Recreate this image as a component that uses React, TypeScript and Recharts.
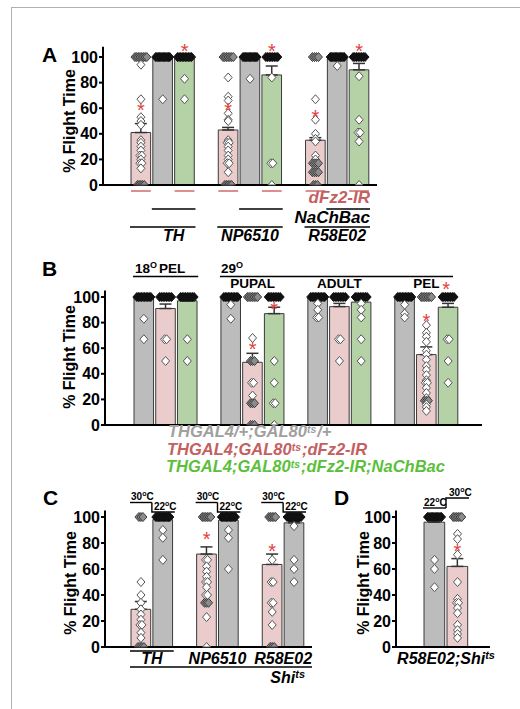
import React from "react";
import { ComposedChart, Bar, Cell, ErrorBar, Scatter, XAxis, YAxis } from "recharts";

const FONT = "'Liberation Sans', Arial, Helvetica, sans-serif";
const GREY = "#bcbcbc";
const PINK = "#eacccc";
const GREEN = "#b4d2a6";
const STAR_RED = "#e4403c";
const LINE_RED = "#d27474";

// ---- panel A : TH / NP6510 / R58E02 (pink, grey, green per group) ----
const A_FILLS = [PINK, GREY, GREEN, null, PINK, GREY, GREEN, null, PINK, GREY, GREEN];
const A_MEANS = [41, 99.5, 99, null, 43, 99.5, 86, null, 35, 99.5, 90];
const A_SEM = [7, 0, 0, null, 2, 0, 7, null, 2, 0, 5];
const A_STARS = [62, null, 108, null, 62, null, 108, null, 56, null, 108];
const A_POINTS = [
  [100, 100, 100, 100, 100, 100, 100, 100, 94, 67, 53, 50, 47, 35, 33, 30, 27, 23, 23, 20, 17, 17, 13, 0, 0, 0, 0, 0],
  [100, 100, 100, 100, 100, 100, 100, 100, 100, 100, 100, 100, 67],
  [100, 100, 100, 100, 100, 100, 100, 100, 100, 100, 83, 67],
  null,
  [100, 100, 100, 100, 100, 100, 100, 84, 69, 66, 56, 51, 50, 35, 33, 33, 30, 27, 23, 20, 17, 17, 10, 0, 0, 0, 0, 0],
  [100, 100, 100, 100, 100, 100, 100, 100, 100, 100, 100, 100, 83],
  [100, 100, 100, 100, 100, 100, 100, 100, 84, 17, 17, 0],
  null,
  [100, 100, 100, 100, 67, 51, 40, 36, 34, 23, 20, 17, 17, 17, 17, 10, 10, 10, 10, 0, 0, 0],
  [100, 100, 100, 100, 100, 100, 100, 100, 100, 100, 100, 100, 93],
  [100, 100, 100, 100, 100, 100, 100, 100, 85, 51, 41, 41, 34, 0],
];
const A_GROUPS = ["TH", "NP6510", "R58E02"];

// ---- panel B : 18° PEL / 29° PUPAL, ADULT, PEL (grey, pink, green) ----
const B_FILLS = [GREY, PINK, GREEN, null, GREY, PINK, GREEN, null, GREY, PINK, GREEN, null, GREY, PINK, GREEN];
const B_MEANS = [99.5, 91, 97, null, 99.5, 49, 87, null, 99.5, 92.5, 96, null, 99.5, 55, 92];
const B_SEM = [0, 3.5, 1, null, 0, 7, 5, null, 0, 2.5, 0, null, 0, 6, 3];
const B_STARS = [null, null, null, null, null, 62.5, 94, null, null, null, null, null, null, 84, null];
const B_POINTS = [
  [100, 100, 100, 100, 100, 100, 100, 100, 100, 100, 83, 67],
  [100, 100, 100, 100, 100, 100, 100, 100, 67, 67, 50],
  [100, 100, 100, 100, 100, 100, 100, 100, 100, 67, 50],
  null,
  [100, 100, 100, 100, 100, 100, 100, 100, 100, 100, 94, 83],
  [100, 100, 100, 100, 100, 100, 100, 68, 50, 50, 50, 33, 33, 23, 17, 17, 17, 0, 0, 0],
  [100, 100, 100, 100, 100, 100, 100, 100, 50, 33, 17, 17, 0],
  null,
  [100, 100, 100, 100, 100, 100, 100, 100, 100, 100, 95, 90, 84, 84],
  [100, 100, 100, 100, 100, 100, 100, 100, 67, 67, 50],
  [100, 100, 100, 100, 100, 100, 100, 100, 95, 90, 84, 67, 50],
  null,
  [100, 100, 100, 100, 100, 100, 100, 100, 100, 100, 94, 87, 84],
  [100, 100, 100, 100, 100, 100, 100, 78, 72, 69, 65, 58, 55, 51, 46, 43, 39, 35, 33, 33, 29, 25, 21, 19, 19, 19, 16, 14, 11],
  [100, 100, 100, 100, 100, 100, 100, 100, 67, 67, 50, 33],
];
const B_STAGES = ["PUPAL", "ADULT", "PEL"];

// ---- panel C : TH / NP6510 / R58E02 Shi-ts (pink 30°C, grey 22°C) ----
const C_FILLS = [PINK, GREY, null, PINK, GREY, null, PINK, GREY];
const C_MEANS = [29, 98, null, 71.5, 97.5, null, 63.5, 95.5];
const C_SEM = [6, 0, null, 5.5, 0, null, 8, 1];
const C_STARS = [null, null, null, 86, null, null, 77, null];
const C_POINTS = [
  [100, 100, 100, 50, 40, 34, 29, 25, 21, 17, 17, 11, 7, 0, 0, 0, 0],
  [100, 100, 100, 100, 100, 100, 100, 100, 100, 100, 100, 100, 90, 84, 67],
  null,
  [100, 100, 100, 100, 100, 100, 67, 67, 62, 58, 54, 50, 50, 46, 40, 40, 34, 34, 34, 23, 0],
  [100, 100, 100, 100, 100, 100, 100, 100, 100, 100, 100, 100, 90, 84, 60],
  null,
  [100, 100, 100, 100, 100, 67, 50, 50, 34, 34, 27, 17, 0, 0, 0],
  [100, 100, 100, 100, 100, 100, 100, 100, 100, 100, 100, 100, 93, 67, 60, 50],
];
const C_GROUPS = ["TH", "NP6510", "R58E02"];

// ---- panel D : R58E02;Shi-ts (grey 22°C, pink 30°C) ----
const D_FILLS = [GREY, PINK];
const D_MEANS = [96, 62];
const D_SEM = [1.5, 6];
const D_STARS = [null, 77];
const D_POINTS = [
  [100, 100, 100, 100, 100, 100, 100, 100, 100, 100, 100, 100, 67, 60, 46],
  [100, 100, 100, 100, 100, 100, 87, 83, 71, 50, 37, 34, 34, 30, 26, 17, 13, 10, 7],
];

const Y_TICKS = [0, 20, 40, 60, 80, 100];

// band widths follow from each panel's plot box and x padding
const A_BAND = (377 - 103 - 27 - 7) / 11;
const B_BAND = (482 - 105 - 28 - 23) / 15;
const C_BAND = (312 - 105 - 25 - 7) / 8;
const D_BAND = (490 - 396 - 27 - 21) / 2;

const lbl = { fontFamily: FONT, fontWeight: 700, fontStyle: "italic" as const, fontSize: 16 };
const hdr = { fontFamily: FONT, fontWeight: 700, fontSize: 13.5, fill: "#000" };
const tmp = { fontFamily: FONT, fontWeight: 700, fontSize: 10, fill: "#000" };

function buildRows(means: (number | null)[], sem: (number | null)[]) {
  return means.map((m, i) => ({ x: i, mean: m, err: sem[i] ? [0, sem[i]] : null }));
}

function buildPoints(points: (number[] | null)[], means: (number | null)[]) {
  const out: any[] = [];
  points.forEach((vals, i) => {
    if (!vals) return;
    const counts: Record<number, number> = {};
    vals.forEach((v) => (counts[v] = (counts[v] || 0) + 1));
    const seen: Record<number, number> = {};
    vals.forEach((v) => {
      seen[v] = (seen[v] ?? -1) + 1;
      const n = counts[v];
      const tone = n < 3 ? "open" : (means[i] ?? 0) >= 80 ? "black" : "grey";
      out.push({ x: i, v, k: seen[v], n, tone });
    });
  });
  return out;
}

function buildStars(stars: (number | null)[]) {
  return stars.map((v, i) => (v == null ? null : { x: i, v })).filter(Boolean);
}

const TONES: Record<string, [string, string]> = {
  open: ["#fff", "#555"],
  grey: ["#8c8c8c", "#3c3c3c"],
  black: ["#111", "#111"],
};

function Diamond(props: any) {
  const { cx, cy, payload } = props;
  if (cx == null || cy == null) return <g />;
  const { k, n, tone, v } = payload;
  const spread = Math.min(14, (n - 1) * (n > 4 ? 1.7 : 2));
  const x = cx + (n > 1 ? -spread / 2 + (spread * k) / (n - 1) : 0);
  const [fill, stroke] = TONES[tone];
  // points sitting on the baseline only show above the axis
  const d =
    v === 0
      ? `M${x - 4},${cy}L${x},${cy - 4.5}L${x + 4},${cy}Z`
      : `M${x},${cy - 4.5}L${x + 4},${cy}L${x},${cy + 4.5}L${x - 4},${cy}Z`;
  return <path d={d} fill={fill} stroke={stroke} strokeWidth={1} />;
}

function Star(props: any) {
  const { cx, cy } = props;
  if (cx == null || cy == null) return <g />;
  return (
    <text x={cx} y={cy + 11} textAnchor="middle" fontSize={20} fontFamily={FONT} fill={STAR_RED}>
      *
    </text>
  );
}

// all panel-A annotations hang off the grey (middle) slot of each group
function ATick({ x, y, payload }: any) {
  const i = payload.value;
  if (i % 4 !== 1) return <g />;
  const g = (i - 1) / 4;
  const b = A_BAND;
  return (
    <g>
      <line x1={x - 1.5 * b + 1} x2={x - 0.5 * b - 1} y1={y + 6} y2={y + 6} stroke={LINE_RED} strokeWidth={1.6} />
      <line x1={x + 0.5 * b + 1} x2={x + 1.5 * b - 1} y1={y + 6} y2={y + 6} stroke={LINE_RED} strokeWidth={1.6} />
      <line x1={x - b / 2} x2={x + 1.5 * b} y1={y + 24} y2={y + 24} stroke="#000" strokeWidth={1.3} />
      <line x1={x - 1.5 * b} x2={x + 1.5 * b} y1={y + 42} y2={y + 42} stroke="#000" strokeWidth={1.3} />
      <text x={g === 0 ? x + b / 2 : x} y={y + 56} textAnchor="middle" {...lbl} fill="#000">
        {A_GROUPS[g]}
      </text>
      {g === 2 && (
        <>
          <text x={x + 1.5 * b} y={y + 18} textAnchor="end" {...lbl} fontSize={17} fill="#c4605f">
            dFz2-IR
          </text>
          <text x={x + 1.5 * b} y={y + 38} textAnchor="end" {...lbl} fontSize={17} fill="#000">
            NaChBac
          </text>
        </>
      )}
    </g>
  );
}

function BTopTick({ x, y, payload }: any) {
  const i = payload.value;
  const b = B_BAND;
  const x0 = x - b / 2;
  if (i === 0)
    return (
      <g>
        <text x={x0 + 2} y={y - 18} {...hdr}>
          18<tspan dy={-5} fontSize={9}>O</tspan>
          <tspan dy={5} dx={2}>PEL</tspan>
        </text>
        <line x1={x0} x2={x0 + 3 * b} y1={y - 14} y2={y - 14} stroke="#000" strokeWidth={1.5} />
      </g>
    );
  if (i === 4)
    return (
      <g>
        <text x={x0 + 1} y={y - 18} {...hdr}>
          29<tspan dy={-5} fontSize={9}>O</tspan>
        </text>
        <line x1={x0} x2={x0 + 11 * b - 6} y1={y - 14} y2={y - 14} stroke="#000" strokeWidth={1.5} />
      </g>
    );
  if (i === 5 || i === 9 || i === 13)
    return (
      <text x={x} y={y - 3} textAnchor="middle" {...hdr}>
        {B_STAGES[(i - 5) / 4]}
      </text>
    );
  if (i === 14)
    return (
      <text x={x - 2} y={y + 5} textAnchor="middle" fontSize={20} fontFamily={FONT} fill={STAR_RED}>
        *
      </text>
    );
  return <g />;
}

function BTick() {
  return <g />;
}

function Temp({ x, y, hot }: { x: number; y: number; hot: boolean }) {
  return (
    <text x={x} y={y} {...tmp}>
      {hot ? "30" : "22"}
      <tspan dy={-4} fontSize={7}>o</tspan>
      <tspan dy={4}>C</tspan>
    </text>
  );
}

function CTopTick({ x, y, payload }: any) {
  const i = payload.value;
  const b = C_BAND;
  const x0 = x - b / 2;
  if (i % 3 === 0)
    return (
      <g>
        <Temp x={x0 + 1} y={y - 10.5} hot />
        <line x1={x0} x2={x0 + b} y1={y - 8} y2={y - 8} stroke="#000" strokeWidth={1.4} />
      </g>
    );
  if (i % 3 === 1)
    return (
      <g>
        <polyline points={`${x0},${y - 8} ${x0},${y + 1.5} ${x0 + b + 1},${y + 1.5}`} fill="none" stroke="#000" strokeWidth={1.4} />
        <Temp x={x0 + 2} y={y - 1} hot={false} />
      </g>
    );
  return <g />;
}

function DTopTick({ x, y, payload }: any) {
  const i = payload.value;
  const b = D_BAND;
  const x0 = x - b / 2;
  if (i === 0)
    return (
      <g>
        <Temp x={x0 + 1} y={y - 5} hot={false} />
        <line x1={x0} x2={x0 + b} y1={y - 2.5} y2={y - 2.5} stroke="#000" strokeWidth={1.4} />
      </g>
    );
  return (
    <g>
      <polyline points={`${x0},${y - 2.5} ${x0},${y - 12.5} ${x0 + b},${y - 12.5}`} fill="none" stroke="#000" strokeWidth={1.4} />
      <Temp x={x0 + 3} y={y - 15} hot />
    </g>
  );
}

function CTick({ x, y, payload }: any) {
  const i = payload.value;
  const b = C_BAND;
  if (i % 3 !== 0) return <g />;
  const g = i / 3;
  return (
    <g>
      {i === 0 && (
        <>
          <line x1={x - b / 2} x2={x + 1.5 * b} y1={y + 4} y2={y + 4} stroke="#000" strokeWidth={1.3} />
          <line x1={x - b / 2} x2={x - b / 2 + 8 * b + 7} y1={y + 20} y2={y + 20} stroke="#000" strokeWidth={1.3} />
          <text x={x - b / 2 + 8 * b} y={y + 36} textAnchor="end" {...lbl} fill="#000">
            Shi<tspan dy={-5} fontSize={11}>ts</tspan>
          </text>
        </>
      )}
      <text x={x + b / 2} y={y + 17} textAnchor="middle" {...lbl} fill="#000">
        {C_GROUPS[g]}
      </text>
    </g>
  );
}

function DTick({ x, y, payload }: any) {
  if (payload.value !== 0) return <g />;
  return (
    <text x={x + D_BAND / 2} y={y + 17} textAnchor="middle" {...lbl} fill="#000">
      R58E02;Shi<tspan dy={-5} fontSize={11}>ts</tspan>
    </text>
  );
}

type PanelProps = {
  left: number;
  top: number;
  width: number;
  height: number;
  marginTop: number;
  marginRight: number;
  yWidth: number;
  yMax: number;
  topH?: number;
  bottomH: number;
  padL: number;
  padR: number;
  band: number;
  fills: (string | null)[];
  means: (number | null)[];
  sem: (number | null)[];
  points: (number[] | null)[];
  stars: (number | null)[];
  topTick?: (p: any) => React.ReactElement;
  bottomTick: (p: any) => React.ReactElement;
};

function Panel(p: PanelProps) {
  const n = p.means.length;
  const rows = buildRows(p.means, p.sem);
  const slots = rows.map((r) => r.x);
  const axisStroke = { stroke: "#000", strokeWidth: 2 };
  return (
    <div style={{ position: "absolute", left: p.left, top: p.top }}>
      <ComposedChart
        width={p.width}
        height={p.height}
        data={rows}
        margin={{ top: p.marginTop, right: p.marginRight, bottom: 0, left: 0 }}
      >
        {p.topTick && (
          <XAxis
            xAxisId="top"
            orientation="top"
            type="number"
            dataKey="x"
            domain={[-0.5, n - 0.5]}
            ticks={slots}
            interval={0}
            padding={{ left: p.padL, right: p.padR }}
            height={p.topH}
            axisLine={false}
            tickLine={false}
            tickSize={0}
            tickMargin={0}
            tick={p.topTick}
          />
        )}
        <XAxis
          type="number"
          dataKey="x"
          domain={[-0.5, n - 0.5]}
          ticks={slots}
          interval={0}
          padding={{ left: p.padL, right: p.padR }}
          height={p.bottomH}
          axisLine={axisStroke}
          tickLine={false}
          tickSize={0}
          tickMargin={0}
          tick={p.bottomTick}
        />
        <YAxis
          type="number"
          domain={[0, p.yMax]}
          ticks={Y_TICKS}
          width={p.yWidth}
          axisLine={axisStroke}
          tickLine={axisStroke}
          tickSize={4}
          tickMargin={1}
          tick={{ fontFamily: FONT, fontWeight: 700, fontSize: 16, fill: "#000" }}
        />
        <Bar dataKey="mean" barSize={p.band} stroke="#3a3a3a" strokeWidth={1} isAnimationActive={false}>
          {rows.map((r, i) => (
            <Cell key={i} fill={p.fills[i] ?? "none"} />
          ))}
          <ErrorBar dataKey="err" direction="y" width={6} stroke="#333" strokeWidth={1.5} />
        </Bar>
        <Scatter data={buildPoints(p.points, p.means)} dataKey="v" shape={Diamond} isAnimationActive={false} />
        <Scatter data={buildStars(p.stars)} dataKey="v" shape={Star} isAnimationActive={false} />
      </ComposedChart>
    </div>
  );
}

function YLabel({ x, y }: { x: number; y: number }) {
  return (
    <text
      transform={`translate(${x},${y}) rotate(-90)`}
      textAnchor="middle"
      dominantBaseline="central"
      fontFamily={FONT}
      fontWeight={700}
      fontSize={16}
      fill="#000"
    >
      % Flight Time
    </text>
  );
}

export default function App() {
  const letter = { fontFamily: FONT, fontWeight: 700, fontSize: 21, fill: "#000" };
  const leg = { fontFamily: FONT, fontWeight: 700, fontStyle: "italic" as const, fontSize: 16.5 };
  return (
    <div style={{ position: "absolute", left: 0, top: 0, width: 520, height: 709, background: "#fff", overflow: "hidden" }}>
      <div
        style={{
          position: "absolute",
          left: 10.5,
          top: 6.5,
          width: 520,
          height: 720,
          borderTop: "1.5px solid #b0b0b0",
          borderLeft: "1.5px solid #b0b0b0",
        }}
      />
      <Panel
        left={0} top={0} width={390} height={250} marginTop={46.8} marginRight={13}
        yWidth={103} yMax={108} bottomH={65} padL={27} padR={7} band={A_BAND}
        fills={A_FILLS} means={A_MEANS} sem={A_SEM} points={A_POINTS} stars={A_STARS}
        bottomTick={ATick}
      />
      <Panel
        left={0} top={250} width={490} height={195} marginTop={0} marginRight={8}
        yWidth={105} yMax={105} topH={40.6} bottomH={20} padL={28} padR={23} band={B_BAND}
        fills={B_FILLS} means={B_MEANS} sem={B_SEM} points={B_POINTS} stars={B_STARS}
        topTick={BTopTick} bottomTick={BTick}
      />
      <Panel
        left={0} top={480} width={320} height={212} marginTop={0} marginRight={8}
        yWidth={105} yMax={105} topH={30.5} bottomH={45} padL={25} padR={7} band={C_BAND}
        fills={C_FILLS} means={C_MEANS} sem={C_SEM} points={C_POINTS} stars={C_STARS}
        topTick={CTopTick} bottomTick={CTick}
      />
      <Panel
        left={300} top={480} width={200} height={212} marginTop={0} marginRight={10}
        yWidth={96} yMax={105} topH={30.5} bottomH={45} padL={27} padR={21} band={D_BAND}
        fills={D_FILLS} means={D_MEANS} sem={D_SEM} points={D_POINTS} stars={D_STARS}
        topTick={DTopTick} bottomTick={DTick}
      />
      <svg width={520} height={709} style={{ position: "absolute", left: 0, top: 0, pointerEvents: "none" }}>
        <text x={42} y={62} {...letter}>A</text>
        <text x={42} y={276} {...letter}>B</text>
        <text x={43} y={505} {...letter}>C</text>
        <text x={334} y={505} {...letter}>D</text>
        <YLabel x={69} y={121} />
        <YLabel x={69} y={357} />
        <YLabel x={70} y={583} />
        <YLabel x={363} y={583} />
        <text x={168} y={437} {...leg} fill="#a0a0a0">
          THGAL4/+;GAL80<tspan dy={-4} fontSize={10.5}>ts</tspan>
          <tspan dy={4} dx={1}>/+</tspan>
        </text>
        <text x={167} y={454.5} {...leg} fill="#c4605f">
          THGAL4;GAL80<tspan dy={-4} fontSize={10.5}>ts</tspan>
          <tspan dy={4} dx={1}>;dFz2-IR</tspan>
        </text>
        <text x={166} y={472} {...leg} fill="#5cbf3a">
          THGAL4;GAL80<tspan dy={-4} fontSize={10.5}>ts</tspan>
          <tspan dy={4} dx={1}>;dFz2-IR;NaChBac</tspan>
        </text>
      </svg>
    </div>
  );
}
